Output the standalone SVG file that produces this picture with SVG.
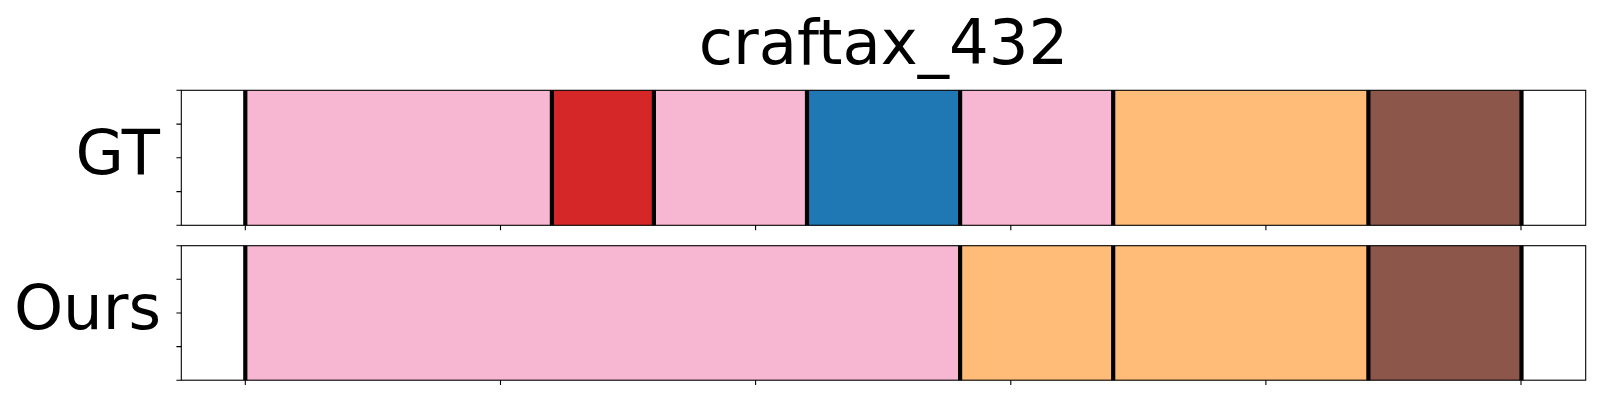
<svg xmlns="http://www.w3.org/2000/svg" width="1600" height="400" viewBox="0 0 1600 400">
<style>
text{font-family:"DejaVu Sans","Liberation Sans",sans-serif;fill:#000}
.t{font-size:62.5px}
.pk{fill:#f7b6d2}.rd{fill:#d62728}.bl{fill:#1f77b4}.or{fill:#ffbb78}.br{fill:#8c564b}
.b{stroke:#000;stroke-width:4.2;fill:none}
.sp{fill:none;stroke:#000;stroke-width:1.1}
.tk{stroke:#000;stroke-width:1.1}
</style>
<rect width="1600" height="400" fill="#fff"/>
<text class="t" x="883.5" y="63.5" text-anchor="middle">craftax_432</text>
<g id="gt">
<rect x="181.3" y="90.3" width="1404.4" height="135" fill="#fff"/>
<rect class="pk" x="245.3" y="90.3" width="306.6" height="135"/>
<rect class="rd" x="551.9" y="90.3" width="102" height="135"/>
<rect class="pk" x="653.9" y="90.3" width="153.1" height="135"/>
<rect class="bl" x="807" y="90.3" width="153.1" height="135"/>
<rect class="pk" x="960.1" y="90.3" width="153.1" height="135"/>
<rect class="or" x="1113.2" y="90.3" width="255.2" height="135"/>
<rect class="br" x="1368.4" y="90.3" width="153.1" height="135"/>
<path class="b" d="M245.3 90.3V225.3M551.9 90.3V225.3M653.9 90.3V225.3M807 90.3V225.3M960.1 90.3V225.3M1113.2 90.3V225.3M1368.4 90.3V225.3M1521.5 90.3V225.3"/>
<rect class="sp" x="181.3" y="90.3" width="1404.4" height="135"/>
<path class="tk" d="M176.4 90.3H181.3M176.4 124.1H181.3M176.4 157.8H181.3M176.4 191.6H181.3M176.4 225.3H181.3M245.3 225.3V230.2M500.5 225.3V230.2M755.6 225.3V230.2M1010.8 225.3V230.2M1265.9 225.3V230.2M1521 225.3V230.2"/>
<text class="t" x="160" y="174" text-anchor="end">GT</text>
</g>
<g id="ours">
<rect x="181.3" y="245.7" width="1404.4" height="134.5" fill="#fff"/>
<rect class="pk" x="245.3" y="245.7" width="714.8" height="134.5"/>
<rect class="or" x="960.1" y="245.7" width="153.1" height="134.5"/>
<rect class="or" x="1113.2" y="245.7" width="255.2" height="134.5"/>
<rect class="br" x="1368.4" y="245.7" width="153.1" height="134.5"/>
<path class="b" d="M245.3 245.7V380.2M960.1 245.7V380.2M1113.2 245.7V380.2M1368.4 245.7V380.2M1521.5 245.7V380.2"/>
<rect class="sp" x="181.3" y="245.7" width="1404.4" height="134.5"/>
<path class="tk" d="M176.4 245.7H181.3M176.4 279.3H181.3M176.4 313H181.3M176.4 346.6H181.3M176.4 380.2H181.3M245.3 380.2V385.1M500.5 380.2V385.1M755.6 380.2V385.1M1010.8 380.2V385.1M1265.9 380.2V385.1M1521 380.2V385.1"/>
<text class="t" x="161" y="329" text-anchor="end">Ours</text>
</g>
</svg>
